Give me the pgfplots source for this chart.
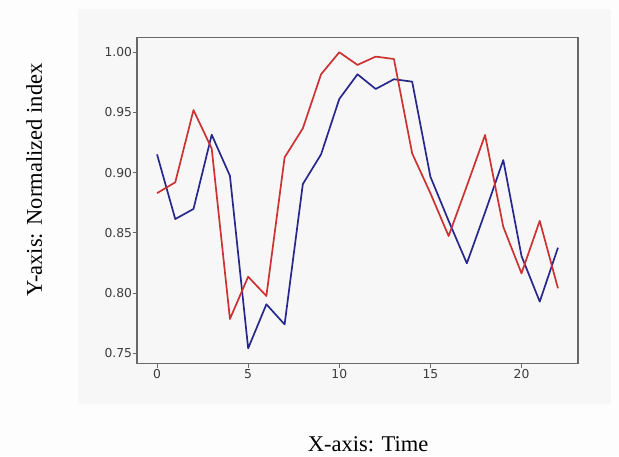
\documentclass[border=0pt]{standalone}
\usepackage{pgfplots}
\pgfplotsset{compat=1.18}
\usepackage{fontspec}
\setmainfont{Liberation Serif}
\newfontfamily\ticksf{DejaVu Sans}
\definecolor{figbg}{RGB}{247,247,247}
\definecolor{outbg}{RGB}{253,253,253}
\definecolor{spine}{RGB}{105,105,105}
\definecolor{ticklab}{RGB}{60,60,60}
\definecolor{lred}{RGB}{205,50,50}
\definecolor{lblue}{RGB}{40,40,140}
\begin{document}
\begin{tikzpicture}[x=1pt,y=1pt]
\path[use as bounding box] (0,0) rectangle (619,456);
\fill[outbg] (0,0) rectangle (619,456);
\fill[figbg] (78,52.5) rectangle (611,447);
\begin{axis}[
  at={(137pt,92.7pt)}, anchor=south west,
  scale only axis, width=441pt, height=325.6pt,
  xmin=-1.1, xmax=23.1, ymin=0.7417, ymax=1.0121,
  xtick={0,5,10,15,20},
  ytick={0.75,0.80,0.85,0.90,0.95,1.00},
  yticklabel style={/pgf/number format/fixed, /pgf/number format/fixed zerofill, /pgf/number format/precision=2, xshift=-0.5pt},
  /pgf/number format/assume math mode=true,
  tick align=outside, xtick pos=left, ytick pos=left,
  major tick length=4.3pt,
  every tick/.style={spine, line width=0.9pt},
  axis line style={spine, line width=1.1pt},
  ticklabel style={font=\ticksf\fontsize{12.3}{14}\selectfont, text=ticklab, inner sep=0pt},
  xticklabel style={yshift=-2pt},
  axis background/.style={fill=figbg},
  clip=false,
]
\addplot[lblue, line width=1.7pt, line join=round] coordinates {
(0,0.9152) (1,0.8615) (2,0.8699) (3,0.9315) (4,0.8974) (5,0.7541) (6,0.7907) (7,0.7740)
(8,0.8905) (9,0.9152) (10,0.9612) (11,0.9817) (12,0.9695) (13,0.9776) (14,0.9756) (15,0.8967)
(16,0.8600) (17,0.8247) (18,0.8670) (19,0.9105) (20,0.8308) (21,0.7929) (22,0.8377)};
\addplot[lred, line width=1.7pt, line join=round] coordinates {
(0,0.8830) (1,0.8920) (2,0.9520) (3,0.9200) (4,0.7785) (5,0.8136) (6,0.7976) (7,0.9127)
(8,0.9368) (9,0.9817) (10,1.0000) (11,0.9895) (12,0.9964) (13,0.9944) (14,0.9160) (15,0.8830)
(16,0.8474) (17,0.8890) (18,0.9313) (19,0.8550) (20,0.8164) (21,0.8600) (22,0.8040)};
\end{axis}
\node[rotate=90, anchor=base, font=\fontsize{22.5}{26}\selectfont, inner sep=0pt] at (42,276) {Y-axis: Normalized index};
\node[anchor=base, font=\fontsize{22.5}{26}\selectfont, inner sep=0pt] at (368,5) {X-axis: Time};
\end{tikzpicture}
\end{document}
